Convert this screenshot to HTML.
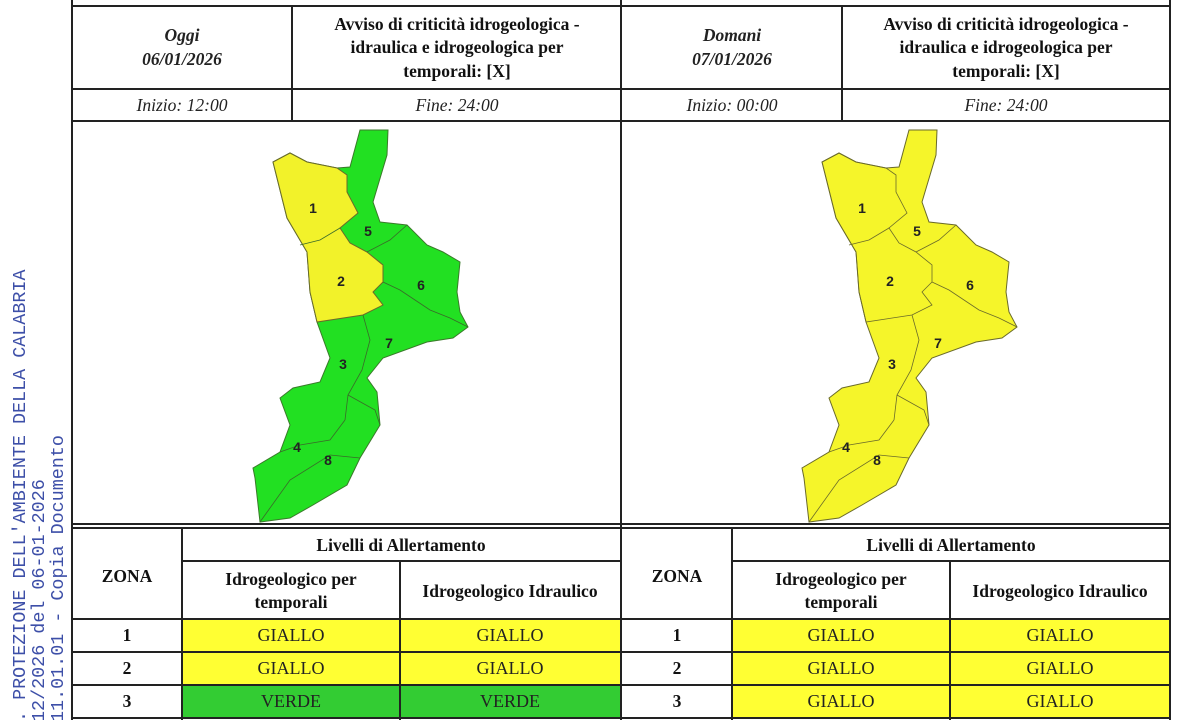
<!DOCTYPE html>
<html><head><meta charset="utf-8"><style>
html,body{margin:0;padding:0;background:#fff;width:1200px;height:720px;overflow:hidden}
svg{display:block}
.b{font-family:"Liberation Serif",serif;font-weight:bold;font-size:17.5px;fill:#111}
.i{font-family:"Liberation Serif",serif;font-style:italic;font-size:17.5px;fill:#222}
.n{font-family:"Liberation Serif",serif;font-size:18px;fill:#222}
.m{font-family:"Liberation Mono",monospace;font-size:18.4px;fill:#3d4fa8}
.z{font-family:"Liberation Sans",sans-serif;font-weight:bold;font-size:14px;fill:#222}
</style></head><body>
<svg width="1200" height="720" viewBox="0 0 1200 720" xmlns="http://www.w3.org/2000/svg">
<rect width="1200" height="720" fill="#fff"/>
<g transform="rotate(-90)">
<text class="m" x="-722" y="25">. PROTEZIONE DELL'AMBIENTE DELLA CALABRIA</text>
<text class="m" x="-722" y="44">12/2026 del  06-01-2026</text>
<text class="m" x="-722" y="63">11.01.01 - Copia Documento</text>
</g>
<rect x="182" y="619" width="439" height="33" fill="#ffff33"/>
<rect x="182" y="652" width="439" height="33" fill="#ffff33"/>
<rect x="182" y="685" width="439" height="33" fill="#33cc33"/>
<rect x="732" y="619" width="438" height="99" fill="#ffff33"/>
<g stroke="#222" stroke-width="2" fill="none">
<line x1="72" y1="0" x2="72" y2="720"/>
<line x1="621" y1="0" x2="621" y2="720"/>
<line x1="1170" y1="0" x2="1170" y2="720"/>
<line x1="72" y1="6" x2="1170" y2="6"/>
<line x1="72" y1="89" x2="1170" y2="89"/>
<line x1="72" y1="121" x2="1170" y2="121"/>
<line x1="72" y1="524" x2="1170" y2="524"/>
<line x1="72" y1="528" x2="1170" y2="528"/>
<line x1="292" y1="6" x2="292" y2="121"/>
<line x1="842" y1="6" x2="842" y2="121"/>
<line x1="182" y1="528" x2="182" y2="720"/>
<line x1="732" y1="528" x2="732" y2="720"/>
<line x1="400" y1="561" x2="400" y2="720"/>
<line x1="950" y1="561" x2="950" y2="720"/>
<line x1="182" y1="561" x2="621" y2="561"/>
<line x1="732" y1="561" x2="1170" y2="561"/>
<line x1="72" y1="619" x2="1170" y2="619"/>
<line x1="72" y1="652" x2="1170" y2="652"/>
<line x1="72" y1="685" x2="1170" y2="685"/>
<line x1="72" y1="718" x2="1170" y2="718"/>
</g>
<g text-anchor="middle">
<text class="i" x="182" y="41" font-weight="bold">Oggi</text>
<text class="i" x="182" y="65" font-weight="bold">06/01/2026</text>
<text class="b" x="457" y="30">Avviso di criticità idrogeologica -</text>
<text class="b" x="457" y="53">idraulica e idrogeologica per</text>
<text class="b" x="457" y="77">temporali: [X]</text>
<text class="i" x="732" y="41" font-weight="bold">Domani</text>
<text class="i" x="732" y="65" font-weight="bold">07/01/2026</text>
<text class="b" x="1006" y="30">Avviso di criticità idrogeologica -</text>
<text class="b" x="1006" y="53">idraulica e idrogeologica per</text>
<text class="b" x="1006" y="77">temporali: [X]</text>
<text class="i" x="182" y="111">Inizio: 12:00</text>
<text class="i" x="457" y="111">Fine: 24:00</text>
<text class="i" x="732" y="111">Inizio: 00:00</text>
<text class="i" x="1006" y="111">Fine: 24:00</text>
<text class="b" x="401" y="551">Livelli di Allertamento</text>
<text class="b" x="951" y="551">Livelli di Allertamento</text>
<text class="b" x="127" y="582">ZONA</text>
<text class="b" x="677" y="582">ZONA</text>
<text class="b" x="291" y="585">Idrogeologico per</text>
<text class="b" x="291" y="608">temporali</text>
<text class="b" x="510" y="597">Idrogeologico Idraulico</text>
<text class="b" x="841" y="585">Idrogeologico per</text>
<text class="b" x="841" y="608">temporali</text>
<text class="b" x="1060" y="597">Idrogeologico Idraulico</text>
<text class="b" x="127" y="641">1</text><text class="b" x="127" y="674">2</text><text class="b" x="127" y="707">3</text>
<text class="b" x="677" y="641">1</text><text class="b" x="677" y="674">2</text><text class="b" x="677" y="707">3</text>
<text class="n" x="291" y="641">GIALLO</text><text class="n" x="510" y="641">GIALLO</text>
<text class="n" x="291" y="674">GIALLO</text><text class="n" x="510" y="674">GIALLO</text>
<text class="n" x="291" y="707">VERDE</text><text class="n" x="510" y="707">VERDE</text>
<text class="n" x="841" y="641">GIALLO</text><text class="n" x="1060" y="641">GIALLO</text>
<text class="n" x="841" y="674">GIALLO</text><text class="n" x="1060" y="674">GIALLO</text>
<text class="n" x="841" y="707">GIALLO</text><text class="n" x="1060" y="707">GIALLO</text>
</g>
<defs>
<path id="cal" d="M360,130 L388,130 L387,155 L373,202 L380,222 L407,225 L427,245 L443,252 L460,262 L457,292 L460,312 L468,327 L453,338 L427,342 L383,358 L367,378 L377,392 L380,425 L360,458 L347,485 L313,505 L290,518 L260,522 L255,478 L253,468 L280,452 L290,425 L280,398 L293,388 L320,382 L330,358 L317,322 L310,292 L307,252 L287,218 L273,162 L290,153 L307,162 L337,168 L350,167 Z"/>
<path id="yel" d="M273,162 L290,153 L307,162 L337,168 L347,175 L347,192 L358,213 L340,228 L350,243 L367,252 L383,265 L383,282 L373,292 L383,305 L363,315 L317,322 L310,292 L307,252 L287,218 Z"/>
<path id="bnd" d="M300,245 L320,240 L340,228 M367,252 L390,240 L407,225 M383,282 L400,290 L430,310 L450,318 L468,327 M363,315 L370,340 L362,370 L348,395 L345,420 M348,395 L375,410 L380,425 M280,452 L300,445 L330,440 L345,420 M260,522 L290,480 L330,455 L360,458"/>
</defs>
<g>
<use href="#cal" fill="#22e022" stroke="#3a7a2a" stroke-width="1"/>
<use href="#yel" fill="#f2f22a" stroke="#6a6a2a" stroke-width="1"/>
<use href="#bnd" fill="none" stroke="#3a6a2a" stroke-width="0.8"/>
<g class="z" text-anchor="middle">
<text x="313" y="213">1</text><text x="341" y="286">2</text><text x="343" y="369">3</text><text x="297" y="452">4</text>
<text x="368" y="236">5</text><text x="421" y="290">6</text><text x="389" y="348">7</text><text x="328" y="465">8</text></g>
</g>
<g transform="translate(549,0)">
<use href="#cal" fill="#f5f52a" stroke="#6a6a2a" stroke-width="1"/>
<use href="#yel" fill="none" stroke="#6a6a2a" stroke-width="0.8"/>
<use href="#bnd" fill="none" stroke="#6a6a2a" stroke-width="0.8"/>
<g class="z" text-anchor="middle">
<text x="313" y="213">1</text><text x="341" y="286">2</text><text x="343" y="369">3</text><text x="297" y="452">4</text>
<text x="368" y="236">5</text><text x="421" y="290">6</text><text x="389" y="348">7</text><text x="328" y="465">8</text></g>
</g>
</svg>
</body></html>
